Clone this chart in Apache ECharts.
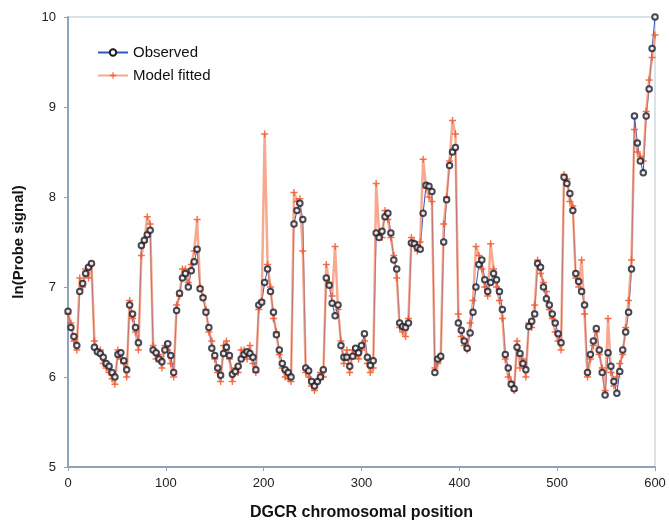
<!DOCTYPE html>
<html>
<head>
<meta charset="utf-8">
<script src="https://cdn.jsdelivr.net/npm/echarts@6/dist/echarts.min.js"></script>
<style>
  html, body { margin: 0; padding: 0; background: #fff; }
  #chart { width: 669px; height: 530px; }
</style>
</head>
<body>
<div id="chart"></div>
<script>
// positions sampled every 3 units along the DGCR
var step = 3;

var observed = [
  6.73, 6.55, 6.45, 6.35, 6.95, 7.04, 7.15, 7.22, 7.26, 6.33,
  6.28, 6.26, 6.22, 6.15, 6.12, 6.05, 6.00, 6.25, 6.27, 6.18,
  6.08, 6.80, 6.70, 6.55, 6.38, 7.46, 7.52, 7.58, 7.63, 6.30,
  6.27, 6.20, 6.17, 6.30, 6.37, 6.24, 6.05, 6.74, 6.93, 7.10,
  7.15, 7.00, 7.18, 7.28, 7.42, 6.98, 6.88, 6.72, 6.55, 6.32,
  6.24, 6.10, 6.02, 6.26, 6.33, 6.24, 6.03, 6.06, 6.12, 6.20,
  6.25, 6.28, 6.26, 6.22, 6.08, 6.80, 6.83, 7.05, 7.20, 6.95,
  6.72, 6.47, 6.30, 6.15, 6.08, 6.05, 6.00, 7.70, 7.85, 7.93,
  7.75, 6.10, 6.07, 5.95, 5.90, 5.95, 6.00, 6.08, 7.10, 7.02,
  6.82, 6.68, 6.80, 6.35, 6.22, 6.22, 6.12, 6.23, 6.32, 6.27,
  6.35, 6.48, 6.22, 6.13, 6.18, 7.60, 7.55, 7.62, 7.78, 7.82,
  7.60, 7.30, 7.20, 6.60, 6.56, 6.55, 6.60, 7.49, 7.48, 7.44,
  7.42, 7.82, 8.13, 8.12, 8.06, 6.05, 6.20, 6.23, 7.50, 7.97,
  8.35, 8.50, 8.55, 6.60, 6.52, 6.40, 6.32, 6.49, 6.72, 7.00,
  7.25, 7.30, 7.08, 6.95, 7.05, 7.15, 7.08, 6.95, 6.75, 6.25,
  6.10, 5.92, 5.87, 6.33, 6.26, 6.15, 6.08, 6.56, 6.62, 6.70,
  7.26, 7.22, 7.00, 6.87, 6.80, 6.70, 6.60, 6.48, 6.38, 8.22,
  8.15, 8.04, 7.85, 7.15, 7.06, 6.95, 6.80, 6.05, 6.25, 6.40,
  6.54, 6.30, 6.05, 5.80, 6.27, 6.12, 5.95, 5.82, 6.06, 6.30,
  6.50, 6.72, 7.20, 8.90, 8.60, 8.40, 8.27, 8.90, 9.20, 9.65,
  10.0
];

var fitted = [
  6.70, 6.60, 6.40, 6.30, 7.10, 7.00, 7.20, 7.10, 7.25, 6.40,
  6.30, 6.30, 6.15, 6.10, 6.05, 5.98, 5.92, 6.30, 6.20, 6.15,
  6.00, 6.85, 6.65, 6.50, 6.30, 7.35, 7.50, 7.78, 7.70, 6.35,
  6.20, 6.25, 6.10, 6.35, 6.30, 6.15, 6.00, 6.80, 6.90, 7.20,
  7.20, 7.05, 7.25, 7.40, 7.75, 7.00, 6.90, 6.75, 6.50, 6.40,
  6.20, 6.05, 5.95, 6.35, 6.40, 6.20, 5.95, 6.10, 6.05, 6.30,
  6.30, 6.20, 6.35, 6.15, 6.05, 6.75, 6.85, 8.70, 7.25, 7.00,
  6.65, 6.50, 6.25, 6.10, 6.00, 5.98, 5.95, 8.05, 7.95, 7.98,
  7.40, 6.05, 6.00, 5.90, 5.85, 5.95, 6.05, 6.00, 7.25, 7.05,
  6.90, 7.45, 6.75, 6.40, 6.15, 6.30, 6.05, 6.30, 6.25, 6.20,
  6.30, 6.40, 6.15, 6.05, 6.10, 8.15, 7.60, 7.55, 7.85, 7.75,
  7.55, 7.35, 7.10, 6.55, 6.50, 6.45, 6.65, 7.55, 7.50, 7.40,
  7.50, 8.42, 8.10, 8.00, 7.95, 6.10, 6.15, 6.20, 7.70, 8.00,
  8.40, 8.85, 8.70, 6.70, 6.45, 6.35, 6.30, 6.60, 6.85, 7.45,
  7.35, 7.20, 7.00, 6.90, 7.48, 7.20, 7.00, 6.85, 6.65, 6.20,
  6.00, 5.95, 5.85, 6.40, 6.10, 6.20, 6.00, 6.60, 6.55, 6.80,
  7.30, 7.15, 7.05, 6.95, 6.75, 6.65, 6.50, 6.40, 6.30, 8.25,
  8.20, 7.95, 7.90, 7.10, 7.00, 7.30, 6.70, 6.00, 6.20, 6.35,
  6.50, 6.25, 6.10, 5.85, 6.65, 6.05, 5.90, 6.00, 6.15, 6.25,
  6.55, 6.85, 7.30, 8.75, 8.50, 8.45, 8.40, 8.95, 9.30, 9.55,
  9.80
];

var xTicks = [0, 100, 200, 300, 400, 500, 600];
var yTicks = [5, 6, 7, 8, 9, 10];

function pairs(vals) {
  var out = [];
  for (var i = 0; i < vals.length; i++) {
    out.push([i * step, vals[i]]);
  }
  return out;
}

var plusPath = "path://M4,0h2v4h4v2h-4v4h-2v-4h-4v-2h4z";
var font = "Liberation Sans";

var option = {
  backgroundColor: "#fff",
  animation: false,
  grid: {
    left: 68,
    right: 14,
    top: 17,
    bottom: 63,
    show: true,
    borderColor: "#b4c4d4",
    borderWidth: 1
  },
  legend: {
    left: 92,
    top: 40,
    orient: "vertical",
    itemWidth: 30,
    itemHeight: 8,
    itemGap: 8,
    textStyle: { fontFamily: font, fontSize: 15, color: "#111" },
    data: ["Observed", "Model fitted"]
  },
  xAxis: {
    type: "value",
    min: xTicks[0],
    max: xTicks[xTicks.length - 1],
    interval: 100,
    name: "DGCR chromosomal position",
    nameLocation: "middle",
    nameGap: 38,
    nameTextStyle: { fontFamily: font, fontSize: 16, fontWeight: "bold", color: "#111" },
    axisLine: { lineStyle: { color: "#8ea4bb", width: 2 } },
    axisTick: { show: true, length: 4, lineStyle: { color: "#8ea4bb" } },
    axisLabel: { fontFamily: font, fontSize: 13, color: "#222", margin: 10 },
    splitLine: { show: false }
  },
  yAxis: {
    type: "value",
    min: yTicks[0],
    max: yTicks[yTicks.length - 1],
    interval: 1,
    name: "ln(Probe signal)",
    nameLocation: "middle",
    nameGap: 42,
    nameTextStyle: { fontFamily: font, fontSize: 15, fontWeight: "bold", color: "#111" },
    axisLine: { show: true, lineStyle: { color: "#8ea4bb", width: 2 } },
    axisTick: { show: true, length: 4, lineStyle: { color: "#8ea4bb" } },
    axisLabel: { fontFamily: font, fontSize: 13, color: "#222", margin: 12 },
    splitLine: { show: false }
  },
  series: [
    {
      // observed line, under the fitted curve
      name: "Observed",
      type: "line",
      data: pairs(observed),
      z: 1,
      symbol: "emptyCircle",
      symbolSize: 6,
      showSymbol: false,
      itemStyle: { color: "#1b1b28", borderWidth: 1.3 },
      lineStyle: { color: "#3056b8", width: 1 }
    },
    {
      name: "Model fitted",
      type: "line",
      data: pairs(fitted),
      z: 2,
      symbol: plusPath,
      symbolSize: 7,
      itemStyle: { color: "#f0572e", opacity: 0.85 },
      lineStyle: { color: "#f5845c", width: 2.5, opacity: 0.7 }
    },
    {
      // observed circles on top
      name: "Observed",
      type: "scatter",
      data: pairs(observed),
      z: 3,
      symbol: "emptyCircle",
      symbolSize: 5.5,
      itemStyle: { color: "#1b1b28", borderWidth: 1.2 }
    }
  ]
};

var myChart = echarts.init(document.getElementById("chart"));
myChart.setOption(option);
</script>
</body>
</html>
